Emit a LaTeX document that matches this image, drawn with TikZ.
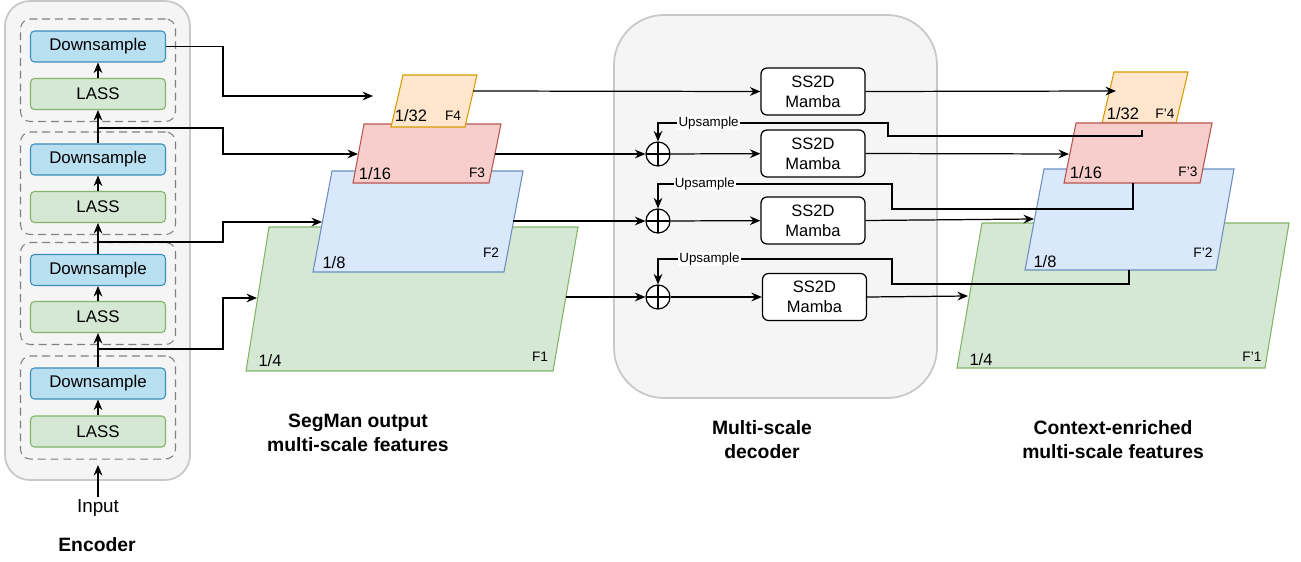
\documentclass[tikz,border=0pt]{standalone}
\usepackage{fontspec}
\setmainfont{Liberation Sans}
\usetikzlibrary{arrows.meta,fit}
\definecolor{panelfill}{HTML}{F5F5F5}
\definecolor{panelline}{HTML}{C8C8C8}
\definecolor{dsfill}{HTML}{B9E0F0}
\definecolor{dsline}{HTML}{3C8DBC}
\definecolor{grfill}{HTML}{D5E8D4}
\definecolor{grline}{HTML}{82B366}
\definecolor{blfill}{HTML}{DAE8FC}
\definecolor{blline}{HTML}{6C8EBF}
\definecolor{rdfill}{HTML}{F8CECC}
\definecolor{rdline}{HTML}{B85450}
\definecolor{orfill}{HTML}{FFE6CC}
\definecolor{orline}{HTML}{D79B00}
\def\featmap[#1](#2)(#3)(#4)(#5){\draw[#1] (#2) -- (#3) -- (#4) -- (#5) -- cycle;}
\tikzset{
  arr/.style={line width=0.7pt, -{Stealth[length=6pt,width=5pt,inset=2pt]}},
  panel/.style={line width=1pt, draw=panelline, fill=panelfill},
  stage/.style={draw=gray, dash pattern=on 4.5pt off 2.8pt, line width=0.6pt, rounded corners=0.2cm, inner xsep=0.19cm, inner ysep=0.23cm},
  dsbox/.style={draw=dsline, fill=dsfill, line width=0.6pt, rounded corners=0.08cm, minimum width=2.7cm, minimum height=0.62cm, inner sep=0pt, font=\fontsize{9.6}{11}\selectfont},
  lassbox/.style={dsbox, draw=grline, fill=grfill},
  mamba/.style={draw, fill=white, line width=0.7pt, rounded corners=0.12cm, minimum width=2.08cm, minimum height=0.94cm, inner sep=0pt, align=center, font=\fontsize{9.4}{11.4}\selectfont},
  sumnode/.style={draw, circle, fill=white, line width=0.7pt, minimum size=0.48cm, inner sep=0pt,
    path picture={\draw[line width=0.7pt] (path picture bounding box.north) -- (path picture bounding box.south) (path picture bounding box.west) -- (path picture bounding box.east);}},
  scalelbl/.style={inner sep=0pt, font=\fontsize{9.4}{11}\selectfont},
  namelbl/.style={inner sep=0pt, font=\fontsize{7.8}{9}\selectfont},
  uplbl/.style={fill=white, inner sep=0.6pt, font=\fontsize{7.6}{9}\selectfont},
  plain/.style={inner sep=1pt, font=\fontsize{10.7}{13}\selectfont},
  title/.style={inner sep=0pt, align=center, font=\fontsize{11}{13.8}\selectfont\bfseries}
}

\begin{document}
\begin{tikzpicture}[x=0.02cm, y=-0.02cm]
		\useasboundingbox (0,0) rectangle (1301,561);
		%%%%% ENCODER %%%%%
		
		\draw[panel, rounded corners=0.5cm] (5,1) rectangle (190,480);
		
		\node[dsbox] (ds1) at (98,46.5) {Downsample};
		\node[lassbox] (lass1) at (98,94) {LASS};
		\node[dsbox] (ds2) at (98,159.5) {Downsample};
		\node[lassbox] (lass2) at (98,207) {LASS};
		\node[dsbox] (ds3) at (98,270) {Downsample};
		\node[lassbox] (lass3) at (98,317) {LASS};
		\node[dsbox] (ds4) at (98,383.5) {Downsample};
		\node[lassbox] (lass4) at (98,431.5) {LASS};
		
		\node[stage, fit=(ds1)(lass1)] (g1) {};
		\node[stage, fit=(ds2)(lass2)] (g2) {};
		\node[stage, fit=(ds3)(lass3)] (g3) {};
		\node[stage, fit=(ds4)(lass4)] (g4) {};
		
		\draw[arr] (lass1) -- (ds1);
		\draw[arr] (lass2) -- (ds2);
		\draw[arr] (lass3) -- (ds3);
		\draw[arr] (lass4) -- (ds4);
		\draw[arr] (ds2) -- (lass1);
		\draw[arr] (ds3) -- (lass2);
		\draw[arr] (ds4) -- (lass3);
		
		\node[plain] (input) at (98,508) {Input};
		\coordinate (inend) at (98,465);
		\draw[arr] (input) -- (inend);
		\node[title] (enc) at (97,545) {Encoder};
		
		%%%%% SEGMAN FEATURES %%%%%
		
		\featmap[draw=grline, fill=grfill, line width=0.6pt](269,227)(578,227)(553,371)(246,371)
		\featmap[draw=blline, fill=blfill, line width=0.6pt](332,171)(523,171)(504,272)(313,272)
		\featmap[draw=rdline, fill=rdfill, line width=0.6pt](364,124)(501,124)(489,183)(353,183)
		\featmap[draw=orline, fill=orfill, line width=0.6pt](403,75)(477,75)(465,127)(391,127)
		
		\node[scalelbl] (s32) at (411,116) {1/32};
		\node[namelbl] (nf4) at (453,116) {F4};
		\node[scalelbl] (s16) at (375,174) {1/16};
		\node[namelbl] (nf3) at (477,173) {F3};
		\node[scalelbl] (s8) at (334,263) {1/8};
		\node[namelbl] (nf2) at (491,253) {F2};
		\node[scalelbl] (s4) at (270,361) {1/4};
		\node[namelbl] (nf1) at (540,357) {F1};
		
		\coordinate (f4in) at (373,96);
		\coordinate (f3in) at (358,154);
		\coordinate (f2in) at (322,222);
		\coordinate (f1in) at (257,298);
		\coordinate (f4out) at (473,91);
		\coordinate (f3out) at (495,154);
		\coordinate (f2out) at (513,221);
		\coordinate (f1out) at (566,297);
		
		\coordinate (tap2) at (98,128);
		\coordinate (tap3) at (98,242);
		\coordinate (tap4) at (98,349);
		\draw[arr] (ds1.east) -- (223,46.5) |- (f4in);
		\draw[arr] (tap2) -- (223,128) |- (f3in);
		\draw[arr] (tap3) -- (223,242) |- (f2in);
		\draw[arr] (tap4) -- (223,349) |- (f1in);
		
		\node[title] (t1) at (358,433) {SegMan output\\multi-scale features};
		
		%%%%% DECODER %%%%%
		
		\draw[panel, rounded corners=1cm] (614,15) rectangle (937,398);
		
		\node[mamba] (m1) at (813,91.5) {SS2D\\Mamba};
		\node[mamba] (m2) at (813,153.5) {SS2D\\Mamba};
		\node[mamba] (m3) at (813,220.5) {SS2D\\Mamba};
		\node[mamba] (m4) at (814.5,297) {SS2D\\Mamba};
		
		\node[sumnode] (s1) at (658,154) {};
		\node[sumnode] (s2) at (658,221) {};
		\node[sumnode] (s3) at (658,297) {};
		
		\draw[arr] (f4out) -- (m1.west);
		\draw[arr] (f3out) -- (s1);
		\draw[arr] (f2out) -- (s2);
		\draw[arr] (f1out) -- (s3);
		\draw[arr] (s1) -- (m2);
		\draw[arr] (s2) -- (m3);
		\draw[arr] (s3) -- (m4);
		
		\node[title] (t2) at (762,439.5) {Multi-scale\\decoder};
		
		%%%%% ENRICHED FEATURES %%%%%
		
		\featmap[draw=grline, fill=grfill, line width=0.6pt](982,223)(1289,223)(1265,368)(957,368)
		\featmap[draw=blline, fill=blfill, line width=0.6pt](1044,169)(1234,169)(1216,270)(1025,270)
		\featmap[draw=orline, fill=orfill, line width=0.6pt](1114,72)(1188,72)(1176,123)(1102,123)
		\featmap[draw=rdline, fill=rdfill, line width=0.6pt](1076,123)(1212,123)(1200,183)(1064,183)
		
		\node[scalelbl] (r32) at (1123,114) {1/32};
		\node[namelbl] (nr4) at (1165,114) {F'4};
		\node[scalelbl] (r16) at (1086,173) {1/16};
		\node[namelbl] (nr3) at (1188,172) {F'3};
		\node[scalelbl] (r8) at (1045,262) {1/8};
		\node[namelbl] (nr2) at (1203,253) {F'2};
		\node[scalelbl] (r4) at (981,360) {1/4};
		\node[namelbl] (nr1) at (1252,357) {F'1};
		
		\coordinate (r4in) at (1116,91);
		\coordinate (r3in) at (1069,154);
		\coordinate (r2in) at (1034,219);
		\coordinate (r1in) at (968,296);
		\coordinate (up1) at (1142,130);
		\coordinate (up2) at (1133,183);
		\coordinate (up3) at (1129,270);
		
		\draw[arr] (m1.east) -- (r4in);
		\draw[arr] (m2.east) -- (r3in);
		\draw[arr] (m3.east) -- (r2in);
		\draw[arr] (m4.east) -- (r1in);
		
		\draw[arr] (up1) -- (1142,136) -- (888,136) -- (888,123) -| node[uplbl, pos=0.39] {Upsample} (s1);
		\draw[arr] (up2) -- (1133,209) -- (892,209) -- (892,184) -| node[uplbl, pos=0.40] {Upsample} (s2);
		\draw[arr] (up3) -- (1129,284) -- (892,284) -- (892,259) -| node[uplbl, pos=0.39] {Upsample} (s3);
		
		\node[title] (t3) at (1113,439.5) {Context-enriched\\multi-scale features};
		
		%%%%% END %%%%%
	\end{tikzpicture}
\end{document}
